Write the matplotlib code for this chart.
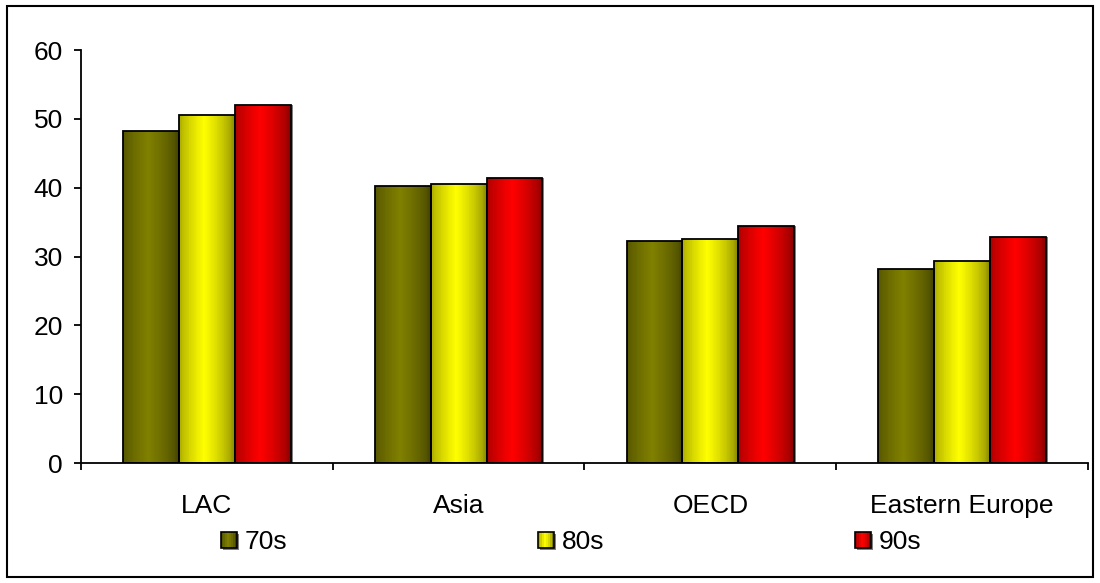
import numpy as np
import matplotlib
matplotlib.use('Agg')
import matplotlib.pyplot as plt
from matplotlib.patches import Rectangle

REGIONS = ['LAC', 'Asia', 'OECD', 'Eastern Europe']
DECADES = ['70s', '80s', '90s']
VALS_70S = [48.3, 40.2, 32.3, 28.2]
VALS_80S = [50.6, 40.5, 32.6, 29.4]
VALS_90S = [52.0, 41.4, 34.4, 32.9]

# (edge, centre) colours for the cylinder-like shading
SHADES = [((0x40, 0x40, 0x00), (0x80, 0x80, 0x00)),
          ((0x80, 0x80, 0x00), (0xFF, 0xFF, 0x00)),
          ((0x80, 0x00, 0x00), (0xFF, 0x00, 0x00))]

plt.rcParams['font.family'] = ['Liberation Sans', 'DejaVu Sans']
plt.rcParams['font.size'] = 19


def shade_strip(edge, centre, n=64):
    t = np.linspace(0, 1, n)
    f = np.clip(1 - np.abs(t - 0.45) / 0.55, 0, 1) ** 0.6
    e = np.array(edge) / 255
    c = np.array(centre) / 255
    return (e[None, :] + (c - e)[None, :] * f[:, None])[None, :, :]


class GradientHandler:
    def __init__(self, idx):
        self.idx = idx

    def legend_artist(self, legend, orig_handle, fontsize, handlebox):
        x0, y0 = -handlebox.xdescent, -handlebox.ydescent
        w, h = handlebox.width, handlebox.height
        tr = handlebox.get_transform()
        img = shade_strip(*SHADES[self.idx], n=8)[0]
        handlebox.add_artist(Rectangle((x0 + 1.5, y0 - 1.5), w, h, facecolor='#808080',
                                       edgecolor='none', transform=tr))
        for k in range(8):
            handlebox.add_artist(Rectangle((x0 + w * k / 8, y0), w / 8, h,
                                           facecolor=img[k], edgecolor='none', transform=tr))
        frame = Rectangle((x0, y0), w, h, facecolor='none', edgecolor='black', lw=1.2,
                          transform=tr)
        handlebox.add_artist(frame)
        return frame


fig = plt.figure(figsize=(11, 5.83), dpi=100)
ax = fig.add_axes([0.0736, 0.2058, 0.9155, 0.7084])

x = np.arange(len(REGIONS))
width = 0.222
series = [VALS_70S, VALS_80S, VALS_90S]
handles = []
for i, vals in enumerate(series):
    pos = x + (i - 1) * width
    # thin drop shadow
    ax.bar(pos + 0.008, vals, width, color='#808080', zorder=1)
    bars = ax.bar(pos, vals, width, color='none', edgecolor='black', lw=1.3, zorder=3,
                  label=DECADES[i])
    handles.append(bars)
    strip = shade_strip(*SHADES[i])
    for b in bars:
        bx, by = b.get_x(), b.get_y()
        im = ax.imshow(strip, extent=[bx, bx + b.get_width(), by, by + b.get_height()],
                       aspect='auto', interpolation='nearest', zorder=2)
        im.set_clip_path(b)

ax.set_xlim(-0.5, 3.5)
ax.set_ylim(0, 60)
ax.set_yticks(range(0, 61, 10))
ax.set_xticks(x)
ax.set_xticklabels(REGIONS)
ax.set_xticks(np.arange(-0.5, 4, 1), minor=True)
ax.tick_params(axis='x', which='major', length=0, pad=22)
ax.tick_params(axis='x', which='minor', length=5, width=1.3, direction='out')
ax.tick_params(axis='y', length=5, width=1.3, direction='out', pad=8)
for s in ['top', 'right']:
    ax.spines[s].set_visible(False)
for s in ['left', 'bottom']:
    ax.spines[s].set_linewidth(1.3)

fig.legend(handles, DECADES, ncol=3, frameon=False, loc='center left',
           bbox_to_anchor=(221 / 1100, 1 - 542 / 583), borderpad=0, borderaxespad=0,
           handlelength=0.6, handleheight=0.55, handletextpad=0.3, columnspacing=9.5,
           handler_map={handles[i]: GradientHandler(i) for i in range(3)})

fig.patches.append(Rectangle((7 / 1100, 6 / 583), 1086 / 1100, 571 / 583,
                             transform=fig.transFigure, fill=False, edgecolor='black', lw=1.5))

fig.savefig('out.png', dpi=100)
